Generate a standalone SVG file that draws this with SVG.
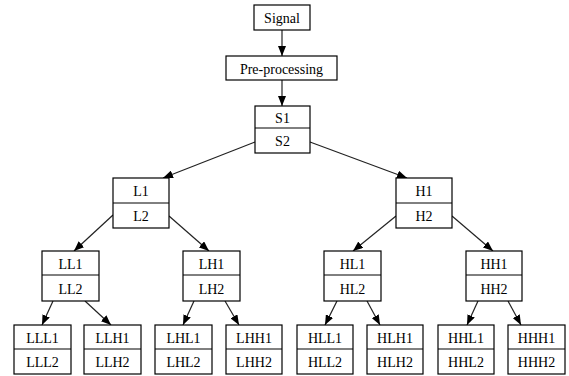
<svg xmlns="http://www.w3.org/2000/svg" width="569" height="376" viewBox="0 0 569 376">
<style>
.b{fill:#fff;stroke:#000;stroke-width:1.2}
.d{stroke:#000;stroke-width:1}
.e{stroke:#222;stroke-width:1.2;fill:none;marker-end:url(#ah)}
</style>
<defs>
<marker id="ah" markerWidth="10" markerHeight="8" refX="10" refY="4" orient="auto" markerUnits="userSpaceOnUse">
<path d="M0,0 L10,4 L0,8 Z" fill="#000"/>
</marker>
</defs>
<rect width="569" height="376" fill="#fff"/>
<g id="connectors">
<line class="e" x1="282" y1="30" x2="282" y2="56"/>
<line class="e" x1="282" y1="80" x2="282" y2="106"/>
<line class="e" x1="255" y1="142" x2="163" y2="178"/>
<line class="e" x1="310" y1="142" x2="407" y2="178"/>
<line class="e" x1="113" y1="215" x2="74" y2="251"/>
<line class="e" x1="169" y1="216" x2="209" y2="251"/>
<line class="e" x1="396" y1="216" x2="353" y2="251"/>
<line class="e" x1="452" y1="216" x2="493" y2="251"/>
<line class="e" x1="53" y1="301" x2="42" y2="325"/>
<line class="e" x1="85" y1="301" x2="111" y2="325"/>
<line class="e" x1="194" y1="301" x2="183" y2="325"/>
<line class="e" x1="225" y1="301" x2="239" y2="325"/>
<line class="e" x1="337" y1="301" x2="325" y2="325"/>
<line class="e" x1="367" y1="301" x2="380" y2="325"/>
<line class="e" x1="478" y1="301" x2="467" y2="325"/>
<line class="e" x1="508" y1="301" x2="521" y2="325"/>
</g>
<g id="nodes" font-family="Liberation Serif, Times New Roman, serif" font-size="14" text-anchor="middle" fill="#000">
<g id="signal"><rect class="b" x="254" y="5" width="56" height="25"/><text x="282" y="23">Signal</text></g>
<g id="preprocessing"><rect class="b" x="226" y="56" width="111" height="24"/><text x="281.5" y="74">Pre-processing</text></g>
<g id="S"><rect class="b" x="255" y="106" width="55" height="47"/><line class="d" x1="255" y1="128" x2="310" y2="128"/><text x="282.5" y="123">S1</text><text x="282.5" y="146">S2</text></g>
<g id="L"><rect class="b" x="113" y="178" width="56" height="50"/><line class="d" x1="113" y1="203" x2="169" y2="203"/><text x="141" y="196">L1</text><text x="141" y="221">L2</text></g>
<g id="H"><rect class="b" x="396" y="178" width="56" height="50"/><line class="d" x1="396" y1="203" x2="452" y2="203"/><text x="424" y="196">H1</text><text x="424" y="221">H2</text></g>
<g id="LL"><rect class="b" x="42" y="251" width="57" height="50"/><line class="d" x1="42" y1="275" x2="99" y2="275"/><text x="70.5" y="269">LL1</text><text x="70.5" y="294">LL2</text></g>
<g id="LH"><rect class="b" x="183" y="251" width="57" height="50"/><line class="d" x1="183" y1="275" x2="240" y2="275"/><text x="211.5" y="269">LH1</text><text x="211.5" y="294">LH2</text></g>
<g id="HL"><rect class="b" x="324" y="251" width="57" height="50"/><line class="d" x1="324" y1="275" x2="381" y2="275"/><text x="352.5" y="269">HL1</text><text x="352.5" y="294">HL2</text></g>
<g id="HH"><rect class="b" x="466" y="251" width="56" height="50"/><line class="d" x1="466" y1="275" x2="522" y2="275"/><text x="494" y="269">HH1</text><text x="494" y="294">HH2</text></g>
<g id="LLL"><rect class="b" x="14" y="325" width="57" height="49"/><line class="d" x1="14" y1="349" x2="71" y2="349"/><text x="42.5" y="343">LLL1</text><text x="42.5" y="367">LLL2</text></g>
<g id="LLH"><rect class="b" x="84" y="325" width="57" height="49"/><line class="d" x1="84" y1="349" x2="141" y2="349"/><text x="112.5" y="343">LLH1</text><text x="112.5" y="367">LLH2</text></g>
<g id="LHL"><rect class="b" x="155" y="325" width="57" height="49"/><line class="d" x1="155" y1="349" x2="212" y2="349"/><text x="183.5" y="343">LHL1</text><text x="183.5" y="367">LHL2</text></g>
<g id="LHH"><rect class="b" x="226" y="325" width="56" height="49"/><line class="d" x1="226" y1="349" x2="282" y2="349"/><text x="254" y="343">LHH1</text><text x="254" y="367">LHH2</text></g>
<g id="HLL"><rect class="b" x="297" y="325" width="56" height="49"/><line class="d" x1="297" y1="349" x2="353" y2="349"/><text x="325" y="343">HLL1</text><text x="325" y="367">HLL2</text></g>
<g id="HLH"><rect class="b" x="367" y="325" width="56" height="49"/><line class="d" x1="367" y1="349" x2="423" y2="349"/><text x="395" y="343">HLH1</text><text x="395" y="367">HLH2</text></g>
<g id="HHL"><rect class="b" x="438" y="325" width="56" height="49"/><line class="d" x1="438" y1="349" x2="494" y2="349"/><text x="466" y="343">HHL1</text><text x="466" y="367">HHL2</text></g>
<g id="HHH"><rect class="b" x="508" y="325" width="57" height="49"/><line class="d" x1="508" y1="349" x2="565" y2="349"/><text x="536.5" y="343">HHH1</text><text x="536.5" y="367">HHH2</text></g>
</g>
</svg>
